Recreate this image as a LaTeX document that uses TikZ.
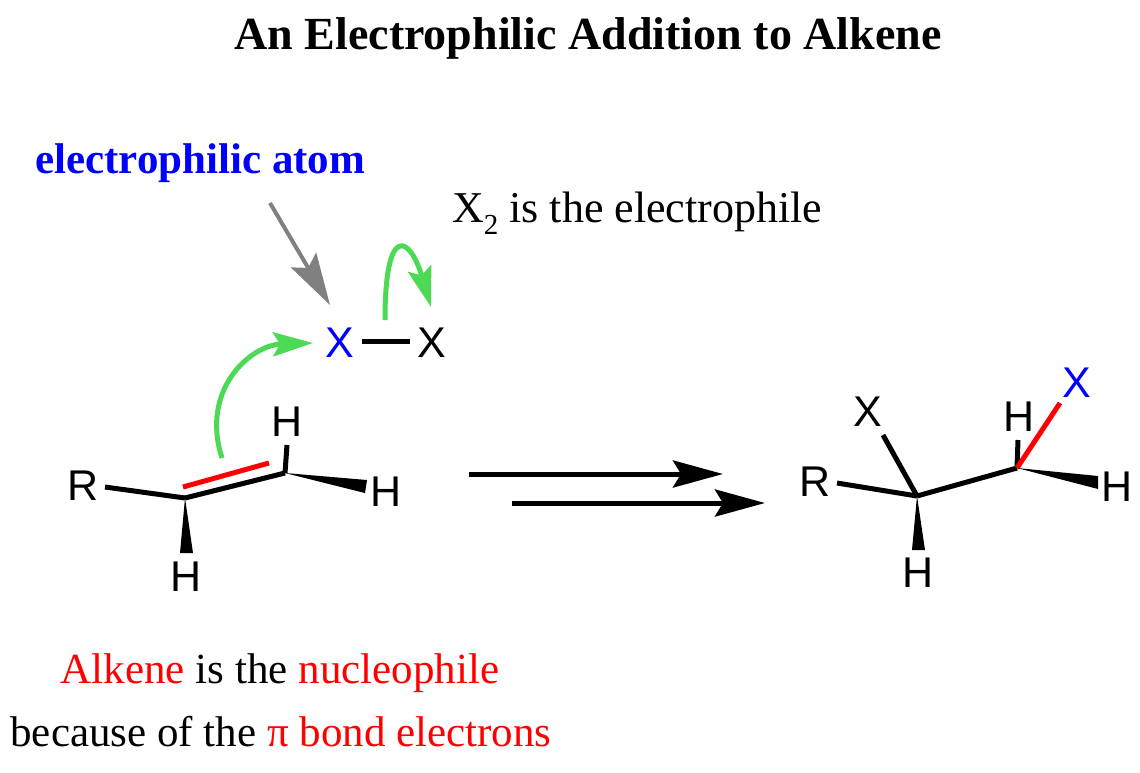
\documentclass[tikz,border=0pt]{standalone}
\usepackage{fontspec}
\setmainfont{Liberation Serif}
\newfontfamily\atomfont{Liberation Sans}
\usetikzlibrary{arrows.meta}
\definecolor{arrowgreen}{RGB}{76,217,84}
\definecolor{pointgray}{RGB}{128,128,128}
\definecolor{purered}{RGB}{255,0,0}
\definecolor{pureblue}{RGB}{0,0,255}
\begin{document}
\begin{tikzpicture}[x=1pt,y=-1pt,
  atom/.style={font=\atomfont\fontsize{43}{50}\selectfont, inner sep=0pt},
  txt/.style={font=\fontsize{43}{50}\selectfont, inner sep=0pt, anchor=base},
  txtb/.style={font=\bfseries\fontsize{43}{50}\selectfont, inner sep=0pt, anchor=base west},
  bond/.style={line width=5pt},
  redbond/.style={line width=5pt, draw=purered},
  wedgebond/.style={fill=black},
  rxn/.style={line width=5pt, -{Stealth[length=50pt,width=27pt,inset=8pt]}},
  curly/.style={draw=arrowgreen, line width=5pt, -{Stealth[length=40pt,width=24pt,inset=7pt]}},
  pointer/.style={draw=pointgray, line width=4pt, -{Stealth[length=52pt,width=29pt,inset=9pt]}}
]
\fill[white] (0,0) rectangle (1140,772);
\useasboundingbox (0,0) rectangle (1140,772);

% texts
\node[font=\bfseries\fontsize{46}{54}\selectfont, inner sep=0pt, anchor=base] (title) at (588,49) {An Electrophilic Addition to Alkene};
\node[txtb, text=pureblue] (elatom) at (35,173) {electrophilic atom};
\node[txt, anchor=base west, font=\fontsize{44}{50}\selectfont] (x2txt) at (452,222) {X\raisebox{-12pt}{\fontsize{29}{30}\selectfont 2} is the electrophile};
\node[txt] (nuc) at (280,683) {\textcolor{purered}{Alkene} is the \textcolor{purered}{nucleophile}};
\node[txt] (pi) at (281,746) {because of the \textcolor{purered}{π bond electrons}};

% X-X
\node[atom, text=pureblue] (XA) at (340,343) {X};
\node[atom] (XB) at (432,343) {X};
\coordinate (xb1) at (362,341);
\coordinate (xb2) at (410,341);
\draw[bond] (xb1) -- (xb2);

% alkene
\node[atom] (R1) at (83,486) {R};
\node[atom] (Ht) at (287,422) {H};
\node[atom] (Hr) at (386,492) {H};
\node[atom] (Hb) at (186,577) {H};
\coordinate (C1) at (185,498);
\coordinate (C2) at (285,473);
\coordinate (bR1) at (105,487);
\coordinate (bHt) at (287,445);
\coordinate (wr1) at (367,480);
\coordinate (wr2) at (365,493);
\coordinate (wb1) at (180,553);
\coordinate (wb2) at (193,553);
\coordinate (pi1) at (183,487);
\coordinate (pi2) at (269,463);
\draw[bond] (bR1) -- (C1);
\draw[bond] (C1) -- (C2);
\draw[bond] (C2) -- (bHt);
\draw[redbond] (pi1) -- (pi2);
\fill[wedgebond] (C2) -- (wr1) -- (wr2) -- cycle;
\fill[wedgebond] (C1) -- (wb1) -- (wb2) -- cycle;

% curly arrows and pointer
\coordinate (ca1) at (222,458);
\coordinate (ca2) at (313,343);
\draw[curly] (ca1) .. controls (200,390) and (250,345) .. (ca2);
\coordinate (cb1) at (385,320);
\coordinate (cb2) at (431,307);
\draw[curly] (cb1) .. controls (385,222) and (410,236) .. (cb2);
\coordinate (pa1) at (270,203);
\coordinate (pa2) at (330,305);
\draw[pointer] (pa1) -- (pa2);

% reaction arrows
\coordinate (r1s) at (469,474);
\coordinate (r1e) at (723,474);
\coordinate (r2s) at (512,503);
\coordinate (r2e) at (765,503);
\draw[rxn] (r1s) -- (r1e);
\draw[rxn] (r2s) -- (r2e);

% product
\node[atom] (R2) at (815,482) {R};
\node[atom] (X1) at (868,412) {X};
\node[atom] (Hb2) at (918,573) {H};
\node[atom] (Ht2) at (1019,417) {H};
\node[atom, text=pureblue] (X2b) at (1077,383) {X};
\node[atom] (Hr2) at (1117,487) {H};
\coordinate (D1) at (917,496);
\coordinate (D2) at (1017,468);
\coordinate (bR2) at (837,483);
\coordinate (bX1) at (883,435);
\coordinate (bH2t) at (1018,440);
\coordinate (bX2) at (1060,403);
\coordinate (wd1) at (912,550);
\coordinate (wd2) at (925,550);
\coordinate (we1) at (1098,476);
\coordinate (we2) at (1098,489);
\draw[bond] (bR2) -- (D1);
\draw[bond] (bX1) -- (D1);
\draw[bond] (D1) -- (D2);
\draw[bond] (D2) -- (bH2t);
\draw[redbond] (D2) -- (bX2);
\fill[wedgebond] (D1) -- (wd1) -- (wd2) -- cycle;
\fill[wedgebond] (D2) -- (we1) -- (we2) -- cycle;
\end{tikzpicture}
\end{document}
